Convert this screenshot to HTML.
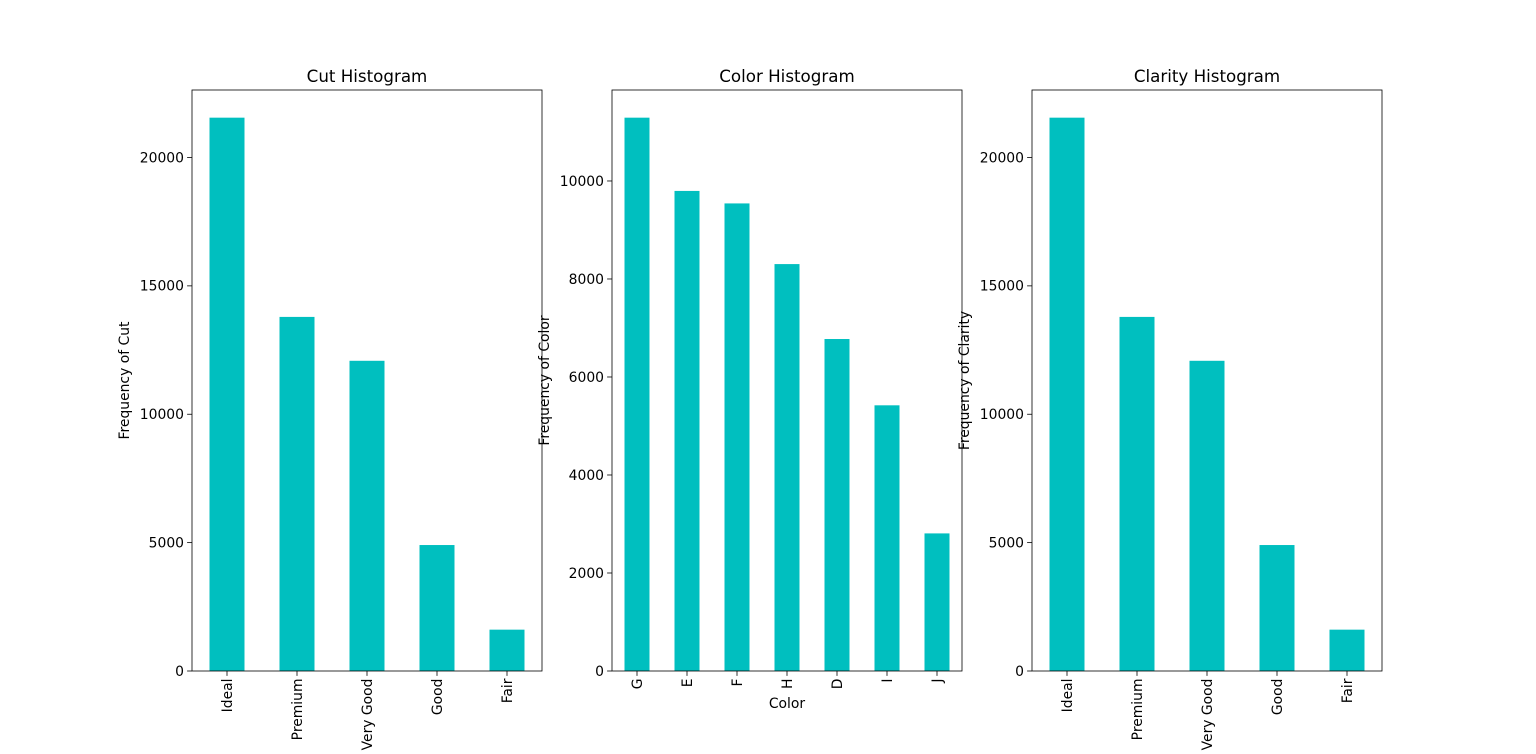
<!DOCTYPE html>
<html><head><meta charset="utf-8"><style>
body{margin:0;background:#fff;}
svg{display:block;font-family:"DejaVu Sans","Liberation Sans",sans-serif;}
</style></head><body>
<svg id="fig" width="1536" height="754" viewBox="0 0 1536 754"></svg>
<script>
const cutCategories=["Ideal","Premium","Very Good","Good","Fair"];
const cutValues=[21551,13791,12082,4906,1610];
const cutTicks=[0,5000,10000,15000,20000];
const colorCategories=["G","E","F","H","D","I","J"];
const colorValues=[11292,9797,9542,8304,6775,5422,2808];
const colorTicks=[0,2000,4000,6000,8000,10000];
const clarityCategories=["Ideal","Premium","Very Good","Good","Fair"];
const clarityValues=[21551,13791,12082,4906,1610];
const clarityTicks=[0,5000,10000,15000,20000];

const NS="http://www.w3.org/2000/svg";
const svg=document.getElementById('fig');
const FS=13.9;
function mk(tag,attrs,parent){const e=document.createElementNS(NS,tag);for(const k in attrs)e.setAttribute(k,attrs[k]);(parent||svg).appendChild(e);return e;}

function panel(key,left,title,cats,vals,ticks,ylabel,xlabel){
  const top=90,bottom=671,w=350;
  const g=mk('g',{});
  
  
  const ymax=Math.max(...vals)*1.05;
  const ys=v=>bottom-(v/ymax)*(bottom-top);
  const n=cats.length;
  const xs=i=>left+(i+0.5)*w/n;
  const bw=0.5*w/n;
  vals.forEach((v,i)=>{
    const r=mk('rect',{x:xs(i)-bw/2,y:ys(v),width:bw,height:bottom-ys(v),fill:'#00bfbf'},g);
    
    
    mk('line',{x1:xs(i),x2:xs(i),y1:bottom,y2:bottom+4.9,stroke:'#000','stroke-width':0.8},g);
    const t=mk('text',{x:0,y:0,'font-size':FS,'text-anchor':'end',transform:`translate(${xs(i)+4.8},${bottom+7.5}) rotate(-90)`},g);
    t.textContent=cats[i];
    
    
  });
  ticks.forEach(v=>{
    mk('line',{x1:left-4.9,x2:left,y1:ys(v),y2:ys(v),stroke:'#000','stroke-width':0.8},g);
    const t=mk('text',{x:left-8,y:ys(v)+4.8,'font-size':FS,'text-anchor':'end'},g);
    t.textContent=v;
    
    
  });
  const fr=mk('rect',{x:left,y:top,width:w,height:bottom-top,fill:'none',stroke:'#000','stroke-width':0.8},g);
  
  
  const tt=mk('text',{x:left+w/2,y:82,'font-size':16.7,'text-anchor':'middle'},g);
  tt.textContent=title;
  
  
  const yl=mk('text',{x:0,y:0,'font-size':FS,'text-anchor':'middle',transform:`translate(${left-63},${(top+bottom)/2}) rotate(-90)`},g);
  yl.textContent=ylabel;
  
  
  if(xlabel){
    const xl=mk('text',{x:left+w/2,y:708,'font-size':FS,'text-anchor':'middle'},g);
    xl.textContent=xlabel;
    
    
  }
}
panel('cut',192,'Cut Histogram',cutCategories,cutValues,cutTicks,'Frequency of Cut',null);
panel('color',612,'Color Histogram',colorCategories,colorValues,colorTicks,'Frequency of Color','Color');
panel('clarity',1032,'Clarity Histogram',clarityCategories,clarityValues,clarityTicks,'Frequency of Clarity',null);
</script>
</body></html>
